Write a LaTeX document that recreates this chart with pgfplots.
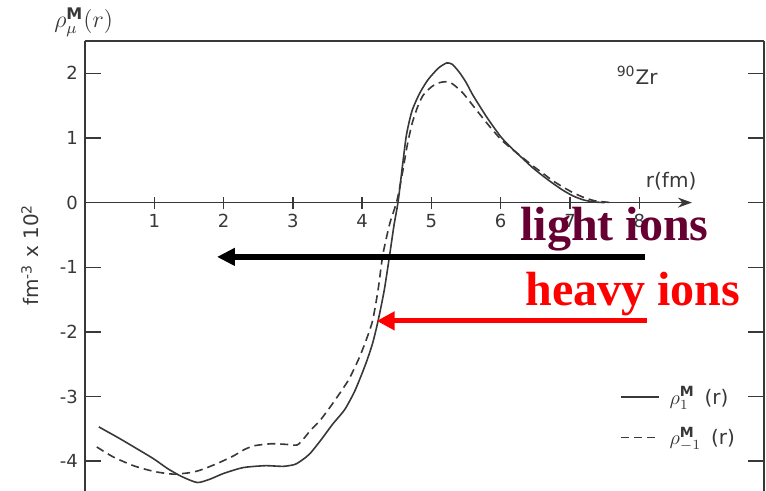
\documentclass[border=0pt]{standalone}
\usepackage{fontspec}
\setmainfont{DejaVu Sans}
\newfontfamily\ionfont{Liberation Serif}
\usepackage{pgfplots}
\usepackage{pgfplotstable}
\pgfplotsset{compat=1.18}
\usetikzlibrary{arrows.meta}

\definecolor{scan}{gray}{0.22}
\definecolor{lightion}{RGB}{102,0,51}

% rho_1^M(r), solid curve
\pgfplotstableread{
r rho
0.20 -3.47
0.50 -3.65
0.80 -3.84
1.00 -3.97
1.20 -4.12
1.40 -4.24
1.62 -4.33
1.80 -4.28
2.00 -4.19
2.28 -4.10
2.60 -4.07
2.86 -4.08
3.03 -4.05
3.15 -3.97
3.25 -3.88
3.40 -3.68
3.58 -3.42
3.75 -3.20
3.90 -2.90
4.05 -2.50
4.15 -2.18
4.23 -1.83
4.32 -1.35
4.40 -0.79
4.46 -0.35
4.52 0.02
4.58 0.55
4.64 1.05
4.72 1.42
4.83 1.69
4.95 1.90
5.10 2.08
5.22 2.16
5.30 2.14
5.40 2.02
5.50 1.86
5.60 1.66
5.80 1.32
6.00 1.02
6.15 0.85
6.30 0.70
6.45 0.55
6.60 0.42
6.75 0.30
6.90 0.19
7.05 0.10
7.20 0.04
7.35 0.01
7.50 0.00
}\rhoplus

% rho_{-1}^M(r), dashed curve
\pgfplotstableread{
r rho
0.17 -3.78
0.40 -3.93
0.70 -4.07
1.00 -4.16
1.27 -4.20
1.50 -4.18
1.66 -4.14
1.90 -4.04
2.14 -3.92
2.30 -3.82
2.45 -3.76
2.70 -3.73
2.90 -3.74
3.06 -3.75
3.15 -3.66
3.25 -3.53
3.40 -3.36
3.58 -3.10
3.80 -2.75
3.95 -2.42
4.05 -2.15
4.15 -1.83
4.23 -1.35
4.30 -0.80
4.40 -0.32
4.50 0.02
4.58 0.45
4.65 0.88
4.72 1.22
4.80 1.48
4.88 1.66
5.00 1.79
5.10 1.85
5.20 1.87
5.30 1.84
5.45 1.70
5.60 1.50
5.80 1.23
6.00 0.98
6.15 0.84
6.30 0.71
6.45 0.58
6.60 0.46
6.75 0.34
6.90 0.24
7.05 0.15
7.20 0.08
7.35 0.03
7.50 0.01
7.60 0.00
}\rhominus

\begin{document}
\begin{tikzpicture}
\begin{axis}[
  at={(0,0)}, anchor=south west,
  scale only axis, width=339.5pt, height=226.25pt,
  xmin=0, xmax=9.8, ymin=-4.5, ymax=2.5,
  clip=false,
  axis x line*=middle, axis y line*=box,
  x axis line style={draw=none},
  y axis line style={scan, line width=0.8pt},
  xtick={1,...,8}, ytick={-4,...,2},
  xtick align=center, ytick align=inside,
  yticklabel pos=left,
  x tick style={scan, line width=0.7pt, /pgfplots/major tick length=6pt},
  y tick style={scan, line width=0.7pt, /pgfplots/major tick length=8pt},
  minor tick num=0,
  /pgf/number format/assume math mode=true,
  tick label style={font=\fontsize{9}{10}\selectfont, text=scan},
  every axis plot/.append style={scan, line width=0.8pt},
  legend style={at={(axis cs:7.63,-3.32)}, anchor=west, draw=none, fill=none,
    font=\fontsize{10}{12}\selectfont, row sep=6pt, column sep=3pt, text=scan},
  legend cell align=left,
  legend image code/.code={\draw[#1] (0pt,0pt) -- (19pt,0pt);},
]
\addplot[smooth, tension=0.4] table[x=r, y=rho] {\rhoplus};
\addlegendentry{$\rho^{\mathbf{M}}_{1}$\, (r)}
\addplot[smooth, tension=0.4, dash pattern=on 4pt off 2.5pt] table[x=r, y=rho] {\rhominus};
\addlegendentry{$\rho^{\mathbf{M}}_{-1}$\, (r)}

% frame top and r axis with its arrow
\draw[scan, line width=0.8pt] (rel axis cs:0,1) -- (rel axis cs:1,1);
\draw[scan, line width=0.7pt, -{Stealth[length=7pt,width=5pt]}] (axis cs:0,0) -- (axis cs:8.76,0);

% labels
\node[font=\fontsize{12}{14}\selectfont, text=scan] at (axis cs:-0.02,2.79) {$\rho^{\mathbf{M}}_{\mu}(r)$};
\node[font=\fontsize{10}{12}\selectfont, text=scan] at (axis cs:7.97,1.97) {\textsuperscript{90}Zr};
\node[font=\fontsize{10}{12}\selectfont, text=scan] at (axis cs:8.46,0.33) {r(fm)};
\node[rotate=90, font=\fontsize{10}{12}\selectfont, text=scan] at (axis cs:-0.79,-0.81) {fm\textsuperscript{-3} x 10\textsuperscript{2}};

% annotations
\node[anchor=base west, inner sep=0pt, font=\ionfont\bfseries\fontsize{24}{28}\selectfont, text=lightion] at (axis cs:6.28,-0.58) {light ions};
\node[anchor=base west, inner sep=0pt, font=\ionfont\bfseries\fontsize{24}{28}\selectfont, text=red] at (axis cs:6.35,-1.586) {heavy ions};
\draw[black, line width=3pt, -{Triangle[length=9pt,width=8.5pt]}] (axis cs:8.08,-0.84) -- (axis cs:1.905,-0.84);
\draw[red, line width=2.6pt, -{Triangle[length=9pt,width=9pt]}] (axis cs:8.11,-1.83) -- (axis cs:4.21,-1.83);
\end{axis}
\pgfresetboundingbox
\useasboundingbox (-42.5pt,1.25pt) rectangle (340.5pt,246.75pt);
\end{tikzpicture}
\end{document}
